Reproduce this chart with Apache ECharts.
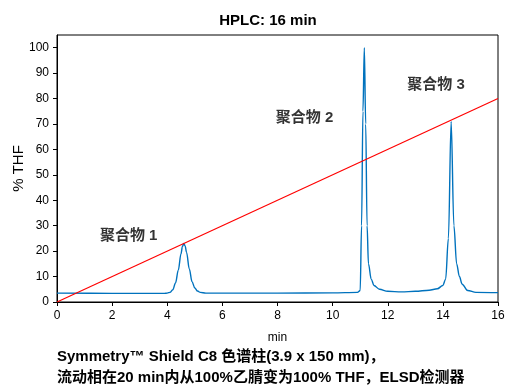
<!DOCTYPE html>
<html>
<head>
<meta charset="utf-8">
<script src="https://cdn.jsdelivr.net/npm/echarts@6/dist/echarts.min.js"></script>
<style>
  html, body { margin: 0; padding: 0; background: #fff; }
  #chart { width: 508px; height: 385px; }
</style>
</head>
<body>
<div id="chart"></div>
<script>
// chromatogram trace (time in min, signal)
const traceTime = [0, 2, 3.9, 4.0, 4.1, 4.2, 4.3, 4.4, 4.5, 4.55, 4.6, 4.65, 4.7, 4.8, 4.9, 5.0, 5.1, 5.2, 5.4, 6, 8, 10, 10.9,
  11.0, 11.05, 11.1, 11.15, 11.2, 11.25, 11.3, 11.4, 11.5, 11.7, 12.0, 12.5, 13.0, 13.5, 13.8, 14.0, 14.1,
  14.2, 14.3, 14.4, 14.5, 14.6, 14.7, 14.9, 15.2, 16]
const traceSignal = [3.5, 3.4, 3.4, 3.5, 3.8, 4.8, 7.5, 12.5, 19, 21.8, 23, 22, 19.5, 13, 8, 5.5, 4.3, 3.8, 3.5, 3.5, 3.5, 3.6, 3.8,
  4.5, 30, 75, 100, 70, 30, 15, 9, 6.5, 5, 4.2, 4.0, 4.2, 4.6, 5.2, 6.5, 9,
  25, 71, 30, 15, 10, 7, 4.5, 3.8, 3.7]

// gradient: 0 -> 100 % THF over 20 min
const gradientTime = [0, 16]
const gradientTHF = [0, 80]

const xTicks = [0, 2, 4, 6, 8, 10, 12, 14, 16]
const peakLabels = ['聚合物 1', '聚合物 2', '聚合物 3']
const peakLabelPos = [[2.6, 26], [8.98, 72.5], [13.75, 85.5]]

const fontLatin = '"Liberation Sans", Arial, sans-serif'
const fontCJK = '"Liberation Sans", "Noto Sans CJK SC", sans-serif'

const chart = echarts.init(document.getElementById('chart'))

chart.setOption({
  animation: false,
  title: {
    text: 'HPLC: 16 min',
    left: 263,
    top: 8,
    textAlign: 'center',
    textStyle: { fontFamily: fontLatin, fontWeight: 'bold', fontSize: 15, color: '#000' }
  },
  grid: {
    left: 57, right: 10, top: 35, bottom: 83,
    outerBoundsMode: 'none',
    containLabel: false,
    show: true, borderColor: '#000', borderWidth: 1
  },
  xAxis: {
    type: 'value',
    min: xTicks[0],
    max: xTicks[xTicks.length - 1],
    interval: 2,
    name: 'min',
    nameLocation: 'middle',
    nameGap: 30,
    nameMoveOverlap: false,
    nameTextStyle: { fontFamily: fontLatin, fontSize: 12, color: '#000' },
    axisLine: { onZero: false, lineStyle: { color: '#000' } },
    axisTick: { show: true, length: 4, lineStyle: { color: '#000' } },
    axisLabel: { fontFamily: fontLatin, fontSize: 12, color: '#000', margin: 8 },
    splitLine: { show: false }
  },
  yAxis: {
    type: 'value',
    min: 0,
    max: 105,
    interval: 10,
    name: '% THF',
    nameLocation: 'middle',
    nameGap: 31,
    nameMoveOverlap: false,
    nameTextStyle: { fontFamily: fontLatin, fontSize: 15, color: '#000' },
    axisLine: { onZero: false, lineStyle: { color: '#000' } },
    axisTick: { show: true, length: 4, lineStyle: { color: '#000' } },
    axisLabel: { fontFamily: fontLatin, fontSize: 12, color: '#000', margin: 8, showMaxLabel: false },
    splitLine: { show: false }
  },
  series: [
    {
      type: 'line',
      data: traceTime.map((t, i) => [t, traceSignal[i]]),
      showSymbol: false,
      smooth: 0.35,
      smoothMonotone: 'x',
      lineStyle: { color: '#0072BD', width: 1.4 },
      z: 2
    },
    {
      type: 'line',
      data: gradientTime.map((t, i) => [t, gradientTHF[i]]),
      showSymbol: false,
      lineStyle: { color: '#FF0000', width: 1.2 },
      z: 3
    },
    {
      type: 'scatter',
      data: peakLabelPos.map((p, i) => ({ value: p, name: peakLabels[i] })),
      symbolSize: 0,
      label: {
        show: true,
        position: 'inside',
        formatter: p => p.name,
        fontFamily: fontCJK,
        fontWeight: 'bold',
        fontSize: 15,
        color: '#000'
      },
      silent: true
    }
  ],
  graphic: [
    {
      type: 'text',
      left: 57,
      top: 346,
      style: {
        text: 'Symmetry™ Shield C8 色谱柱(3.9 x 150 mm)，\n流动相在20 min内从100%乙腈变为100% THF，ELSD检测器',
        font: 'bold 15px ' + fontCJK,
        lineHeight: 21,
        fill: '#000'
      }
    }
  ]
})
</script>
</body>
</html>
